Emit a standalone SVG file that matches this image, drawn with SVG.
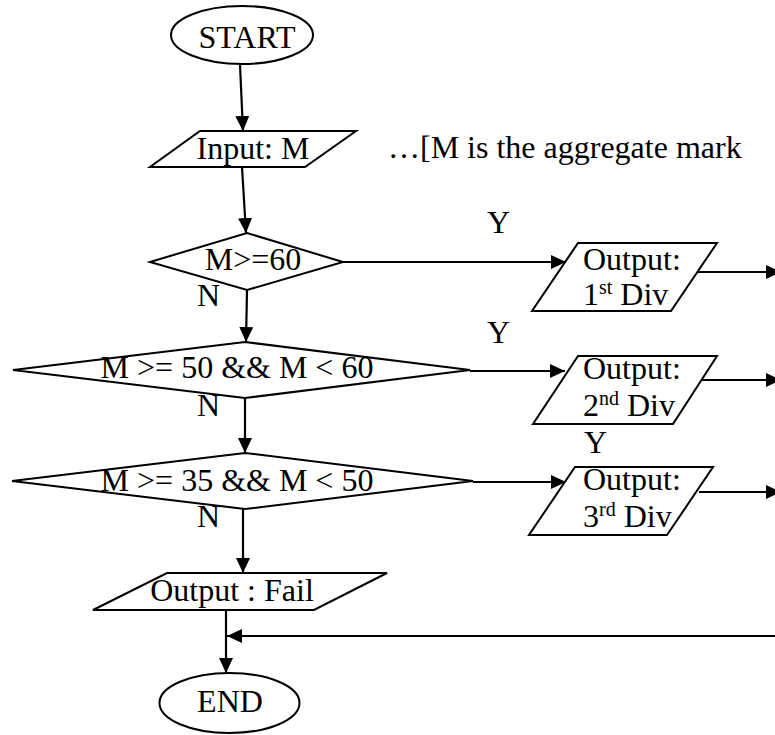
<svg xmlns="http://www.w3.org/2000/svg" width="775" height="735" viewBox="0 0 775 735">
<style>
.s{fill:#fff;stroke:#000;stroke-width:2}
.t{font-family:"Liberation Serif","Times New Roman",serif;font-size:32px;fill:#000}
.sup{font-size:20px}
.c{fill:none;stroke:#000;stroke-width:2.2;marker-end:url(#ah)}
</style>
<defs>
<marker id="ah" markerUnits="userSpaceOnUse" markerWidth="16" markerHeight="14" refX="15" refY="7" orient="auto">
<path d="M0,0 L15,7 L0,14 z" fill="#000"/>
</marker>
</defs>
<rect width="775" height="735" fill="#fff"/>
<g id="connectors">
<line class="c" x1="240" y1="65" x2="243" y2="131"/>
<line class="c" x1="242" y1="167" x2="246" y2="233"/>
<line class="c" x1="247" y1="290" x2="246" y2="342"/>
<line class="c" x1="245" y1="398" x2="245" y2="453"/>
<line class="c" x1="243" y1="509" x2="243" y2="573"/>
<line class="c" x1="226" y1="610" x2="226" y2="673"/>
<line class="c" x1="775" y1="636" x2="227" y2="636"/>
<line class="c" x1="343" y1="262" x2="566" y2="262"/>
<line class="c" x1="470" y1="371" x2="565" y2="371"/>
<line class="c" x1="473" y1="482" x2="566" y2="482"/>
<line class="c" x1="698" y1="272" x2="781" y2="272"/>
<line class="c" x1="702" y1="380" x2="781" y2="380"/>
<line class="c" x1="699" y1="492" x2="781" y2="492"/>
</g>
<g id="start">
<ellipse class="s" cx="242" cy="35" rx="71" ry="29"/>
<text class="t" x="247" y="48" text-anchor="middle">START</text>
</g>
<g id="input">
<polygon class="s" points="200,131 356,131 305,167 150,167"/>
<text class="t" x="253" y="159" text-anchor="middle">Input: M</text>
</g>
<g id="note">
<text class="t" x="388" y="158">…[M is the aggregate mark</text>
</g>
<g id="d1">
<polygon class="s" points="247,233 343,262 247,290 150,262"/>
<text class="t" x="253" y="270" text-anchor="middle">M&gt;=60</text>
</g>
<g id="d2">
<polygon class="s" points="245,342 470,370 245,398 13,370"/>
<text class="t" x="237" y="378" text-anchor="middle">M &gt;= 50 &amp;&amp; M &lt; 60</text>
</g>
<g id="d3">
<polygon class="s" points="245,453 473,481 245,509 12,481"/>
<text class="t" x="237" y="491" text-anchor="middle">M &gt;= 35 &amp;&amp; M &lt; 50</text>
</g>
<g id="labels">
<text class="t" x="487" y="233">Y</text>
<text class="t" x="487" y="343">Y</text>
<text class="t" x="584" y="453">Y</text>
<text class="t" x="197" y="306">N</text>
<text class="t" x="197" y="416">N</text>
<text class="t" x="197" y="527">N</text>
</g>
<g id="out1">
<polygon class="s" points="578,243 717,243 671,311 532,311"/>
<text class="t" x="583" y="270">Output:</text>
<text class="t" x="583" y="305">1<tspan class="sup" dy="-11">st</tspan><tspan dy="11"> Div</tspan></text>
</g>
<g id="out2">
<polygon class="s" points="578,356 717,356 673,424 533,424"/>
<text class="t" x="583" y="379">Output:</text>
<text class="t" x="583" y="416">2<tspan class="sup" dy="-11">nd</tspan><tspan dy="11"> Div</tspan></text>
</g>
<g id="out3">
<polygon class="s" points="575,467 713,467 667,535 529,535"/>
<text class="t" x="583" y="490">Output:</text>
<text class="t" x="583" y="527">3<tspan class="sup" dy="-11">rd</tspan><tspan dy="11"> Div</tspan></text>
</g>
<g id="fail">
<polygon class="s" points="167,573 387,573 314,610 93,610"/>
<text class="t" x="232" y="601" text-anchor="middle">Output : Fail</text>
</g>
<g id="end">
<ellipse class="s" cx="229.5" cy="703" rx="70" ry="30"/>
<text class="t" x="230" y="712" text-anchor="middle">END</text>
</g>
</svg>
